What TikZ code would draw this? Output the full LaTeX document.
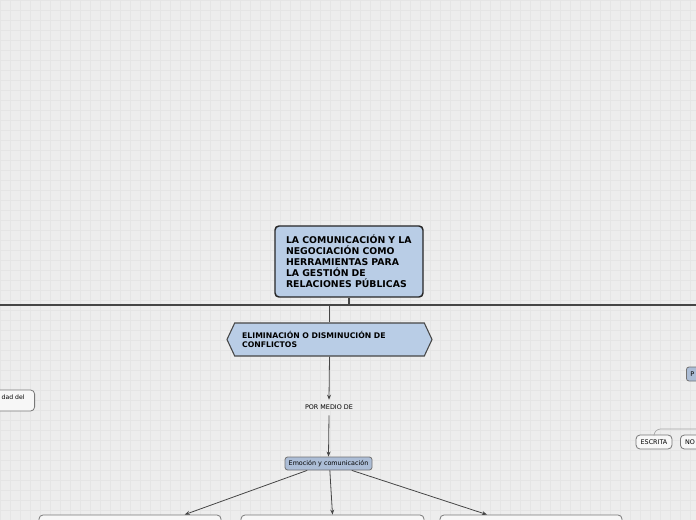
\documentclass[tikz,border=0pt]{standalone}
\usepackage{fontspec}
\setmainfont{DejaVu Sans}
\usepackage{tikz}
\usetikzlibrary{arrows.meta,positioning,shapes.symbols}
\definecolor{paper}{RGB}{237,237,237}
\definecolor{gridln}{RGB}{229,229,229}
\definecolor{topicblue}{RGB}{185,205,230}
\definecolor{subblue}{RGB}{172,189,214}
\definecolor{edge}{RGB}{70,70,70}
\definecolor{leafedge}{RGB}{120,120,120}
\definecolor{faint}{RGB}{165,165,165}

\begin{document}
\begin{tikzpicture}[x=0.75pt, y=-0.75pt,
  topic/.style={draw=black!85, line width=1.1pt, rounded corners=3pt, fill=topicblue,
    align=left, font=\fontsize{7}{8.25}\selectfont\bfseries},
  hexbox/.style={draw=edge, line width=0.8pt, fill=topicblue, signal, signal to=west and east,
    signal pointer angle=130, align=left, font=\fontsize{5.8}{6.75}\selectfont\bfseries},
  subtopic/.style={draw=black!55, line width=0.6pt, rounded corners=2pt, fill=subblue,
    minimum height=9.75pt, inner sep=2pt, font=\fontsize{4.8}{5.5}\selectfont},
  leaf/.style={draw=leafedge, line width=0.6pt, rounded corners=3pt, fill=white!97!black,
    minimum height=10.5pt, inner sep=2pt, font=\fontsize{4.8}{5.5}\selectfont},
  linkword/.style={inner sep=0pt, minimum height=11.25pt, font=\fontsize{4.8}{5.5}\selectfont},
  arr/.style={-{Stealth[length=3.8pt, width=3pt]}, draw=edge, line width=0.6pt},
  trunk/.style={draw=edge, line width=0.9pt},
]
\useasboundingbox (0,0) rectangle (696,520);
\clip (0,0) rectangle (696,520);
\fill[paper] (0,0) rectangle (696,520);
\draw[gridln, line width=0.4pt, step=7.5pt] (0,0) grid (696,520);

% Central topic
\node[topic, minimum width=111pt, minimum height=53.25pt, text width=94.5pt, inner xsep=8.25pt] (root) at (349,261.5)
  {LA COMUNICACIÓN Y LA\\NEGOCIACIÓN COMO\\HERRAMIENTAS PARA\\LA GESTIÓN DE\\RELACIONES PÚBLICAS};
\coordinate (trunkL) at (0,305);
\coordinate (trunkR) at (696,305);
\coordinate (jroot) at (349,305);
\coordinate (jhex) at (329.5,305);
\draw[trunk] (trunkL) -- (trunkR);
\draw[trunk] (root.south) -- (jroot);

% Main branch
\node[hexbox, minimum width=153.75pt, minimum height=24.75pt, text width=131pt, inner xsep=0pt] (elim) at (329.5,339.5)
  {ELIMINACIÓN O DISMINUCIÓN DE\\CONFLICTOS};
\draw[trunk, line width=0.6pt] (jhex) -- (elim.north);

\node[linkword] (medio) at (329,407.5) {POR MEDIO DE};
\node[subtopic, minimum width=65.25pt] (emo) at (328.5,463.5) {Emoción y comunicación};
\draw[arr] (elim.south) -- (medio.north);
\draw[arr] (medio.south) -- (emo.north);

% Cut-off leaves at the bottom
\node[leaf, minimum width=136.5pt, minimum height=22.5pt] (leafA) at (130,530) {};
\node[leaf, minimum width=137.25pt, minimum height=22.5pt] (leafB) at (332.5,530) {};
\node[leaf, minimum width=136.5pt, minimum height=22.5pt] (leafC) at (531,530) {};
\draw[arr] ([xshift=-16pt]emo.south) -- ([xshift=41pt]leafA.north);
\draw[arr] ([xshift=1pt]emo.south) -- (leafB.north);
\draw[arr] ([xshift=17.5pt]emo.south) -- ([xshift=-33pt]leafC.north);

% Side branches (partly outside the view)
\node[leaf, anchor=east, minimum height=15.75pt, text depth=5pt, inner xsep=7.5pt,
  font=\fontsize{4.6}{5.5}\selectfont] (sideL) at (35,400.5) {dad del};
\node[subtopic, anchor=west, minimum width=30pt, minimum height=10.5pt, align=left, text width=24pt] (sideR) at (686,374) {P};
\node[leaf, minimum width=27pt] (escrita) at (654,442) {ESCRITA};
\node[leaf, anchor=west, minimum width=27pt, align=left, text width=20pt] (noverbal) at (680,442) {NO};
\coordinate (edgeR) at (700,429);
\draw[faint, line width=0.5pt, rounded corners=5pt] (escrita.north) |- (edgeR);
\end{tikzpicture}
\end{document}
